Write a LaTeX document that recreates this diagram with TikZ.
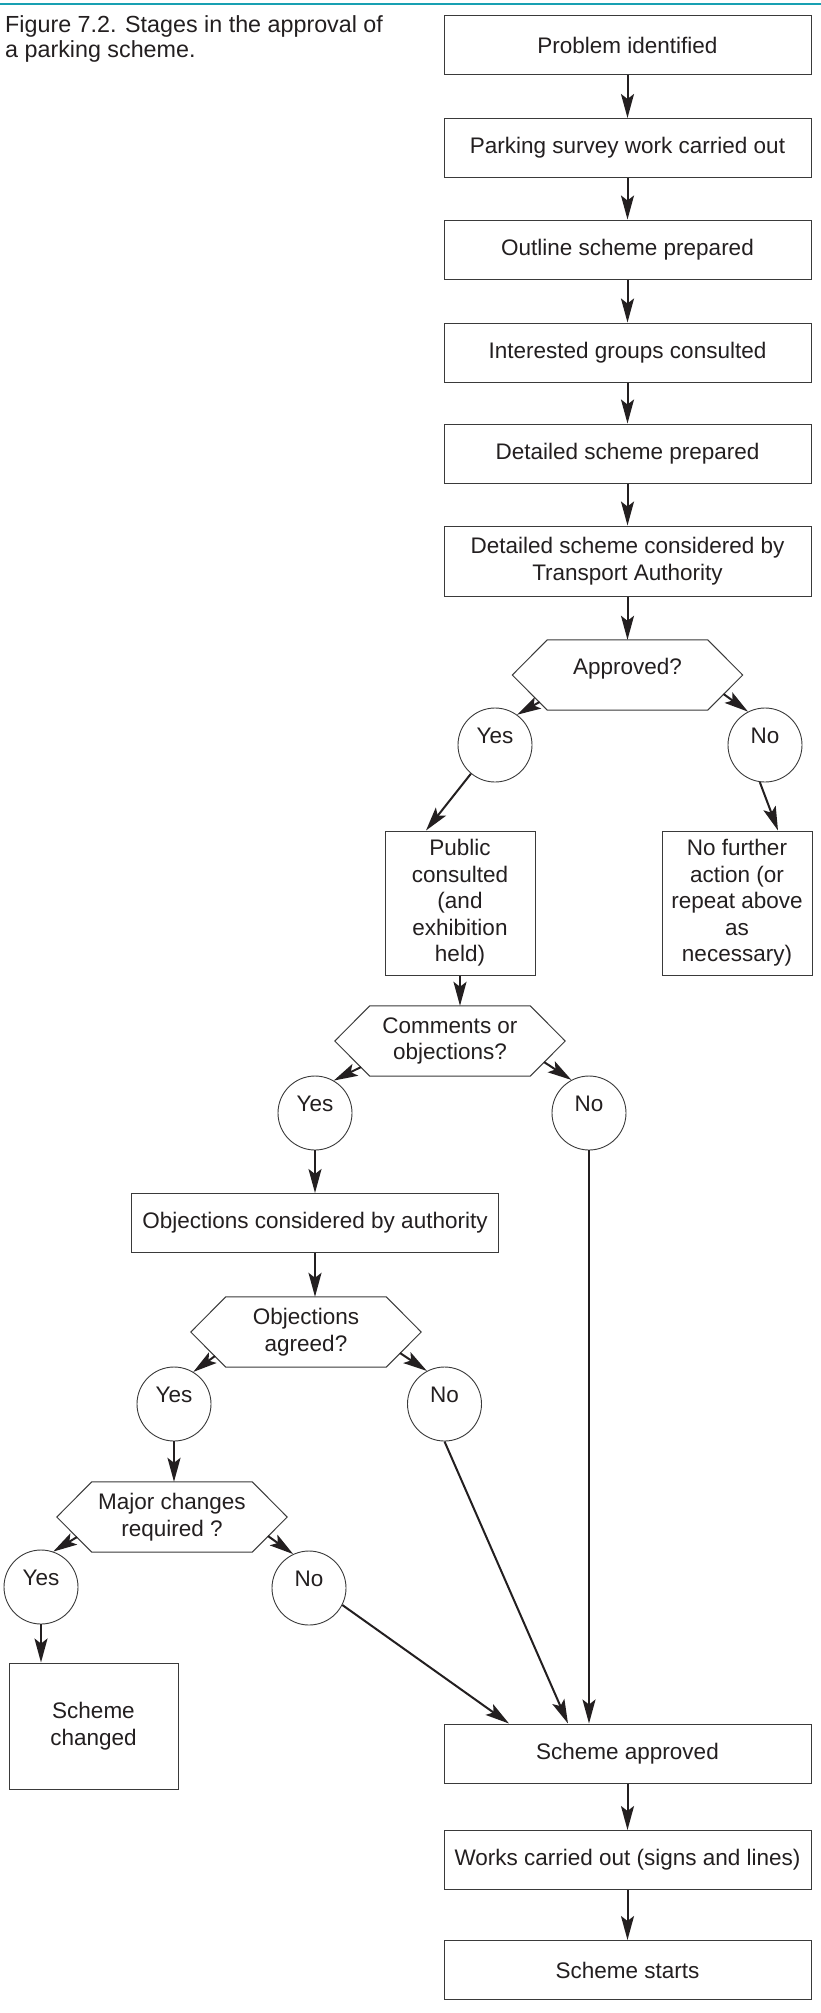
\documentclass[tikz,border=0pt]{standalone}
\usepackage{fontspec}
\setmainfont{Liberation Sans}
\usetikzlibrary{arrows.meta,calc}
\definecolor{ink}{HTML}{231F20}
\definecolor{edge}{HTML}{3A3A3A}
\definecolor{rulecol}{RGB}{24,160,178}

% outline of a decision hexagon built on the anchors of a rectangle node
\newcommand\hexoutline[1]{%
  \draw[hexline] (#1.west) -- ([xshift=35pt]#1.north west) -- ([xshift=-35pt]#1.north east)
    -- (#1.east) -- ([xshift=-35pt]#1.south east) -- ([xshift=35pt]#1.south west) -- cycle;}

\begin{document}
\begin{tikzpicture}[x=1pt,y=-1pt,
  every node/.style={text=ink, font=\fontsize{22.5}{26.5}\selectfont},
  stepbox/.style={draw=edge, line width=1pt, rectangle, inner sep=0pt, align=center,
                  minimum width=367pt, minimum height=59pt},
  tallbox/.style={stepbox, minimum width=150pt, minimum height=144pt},
  hexnode/.style={rectangle, inner sep=0pt, align=center, minimum width=230pt, minimum height=70pt},
  answer/.style={circle, draw=edge, line width=0.9pt, minimum size=74pt, inner sep=0pt, text depth=18pt},
  arr/.style={draw=ink, line width=2pt, -{Stealth[length=24pt,width=13pt,inset=5pt]}},
  hexline/.style={draw=edge, line width=1pt}
]
\fill[white] (0,0) rectangle (821,2013);
\useasboundingbox (0,0) rectangle (821,2013);

% heading rule and caption
\draw[rulecol, line width=2.6pt] (0,4) -- (821,4);
\node[anchor=north west, align=left, inner sep=0pt, font=\fontsize{23.3}{25}\selectfont] (cap) at (5,15)
  {Figure 7.2. Stages in the approval of\\a parking scheme.};

% main column
\node[stepbox] (b1) at (627.5,45) {Problem identified};
\node[stepbox] (b2) at (627.5,148) {Parking survey work carried out};
\node[stepbox] (b3) at (627.5,249.5) {Outline scheme prepared};
\node[stepbox] (b4) at (627.5,352.5) {Interested groups consulted};
\node[stepbox] (b5) at (627.5,453.5) {Detailed scheme prepared};
\node[stepbox, minimum height=70pt] (b6) at (627.5,561) {Detailed scheme considered by\\Transport Authority};

% first decision
\node[hexnode, text depth=18pt] (h1) at (627.5,675) {Approved?};
\hexoutline{h1}
\node[answer] (ay) at (495,745) {Yes};
\node[answer] (an) at (765,745) {No};
\node[tallbox] (pub) at (460,903) {Public\\consulted\\(and\\exhibition\\held)};
\node[tallbox] (nf) at (737,903) {No further\\action (or\\repeat above\\as\\necessary)};

% second decision
\node[hexnode] (h2) at (450,1041) {Comments or\\objections?};
\hexoutline{h2}
\node[answer] (cy) at (315,1113) {Yes};
\node[answer] (cn) at (589,1113) {No};
\node[stepbox] (oc) at (315,1223) {Objections considered by authority};

% third decision
\node[hexnode] (h3) at (306,1332) {Objections\\agreed?};
\hexoutline{h3}
\node[answer] (oy) at (174,1404) {Yes};
\node[answer] (on) at (444.5,1404) {No};

% fourth decision
\node[hexnode] (h4) at (172,1517) {Major changes\\required ?};
\hexoutline{h4}
\node[answer] (my) at (41,1587) {Yes};
\node[answer] (mn) at (309,1588) {No};
\node[stepbox, minimum width=169pt, minimum height=126pt] (sc) at (93.5,1726) {Scheme\\changed};

% final stages
\node[stepbox] (sa) at (627.5,1753.5) {Scheme approved};
\node[stepbox] (wk) at (627.5,1860) {Works carried out (signs and lines)};
\node[stepbox] (ss) at (627.5,1970) {Scheme starts};

% connectors of the main column
\draw[arr] (b1) -- (b2);
\draw[arr] (b2) -- (b3);
\draw[arr] (b3) -- (b4);
\draw[arr] (b4) -- (b5);
\draw[arr] (b5) -- (b6);
\draw[arr] (b6) -- (h1);

% branches of the first decision
\draw[arr] ($(h1.center)+(-88,27)$) -- (ay.54);
\draw[arr] ($(h1.center)+(96,19)$) -- (an.117);
\draw[arr] (ay.230) -- ([xshift=-34pt]pub.north);
\draw[arr] (an.262) -- ([xshift=41pt]nf.north);
\draw[arr] (pub.south) -- (pub.south |- h2.north);

% branches of the second decision
\draw[arr] ($(h2.center)+(-89,26)$) -- (cy.60);
\draw[arr] ($(h2.center)+(94,21)$) -- (cn.118);
\draw[arr] (cy) -- (oc);
\draw[arr] (oc.south) -- (oc.south |- h3.north);

% branches of the third decision
\draw[arr] ($(h3.center)+(-91,24)$) -- (oy.59);
\draw[arr] ($(h3.center)+(94,21)$) -- (on.118);
\draw[arr] (oy.south) -- (oy.south |- h4.north);

% branches of the fourth decision
\draw[arr] ($(h4.center)+(-95,20)$) -- (my.71);
\draw[arr] ($(h4.center)+(96,19)$) -- (mn.115);
\draw[arr] (my.south) -- (my.south |- sc.north);

% routes into the approved scheme
\draw[arr] (mn.-27) -- ([xshift=-118.5pt]sa.north);
\draw[arr] (on.south) -- ([xshift=-59.5pt]sa.north);
\draw[arr] (cn.south) -- (cn.south |- sa.north);
\draw[arr] (sa) -- (wk);
\draw[arr] (wk) -- (ss);
\end{tikzpicture}
\end{document}
